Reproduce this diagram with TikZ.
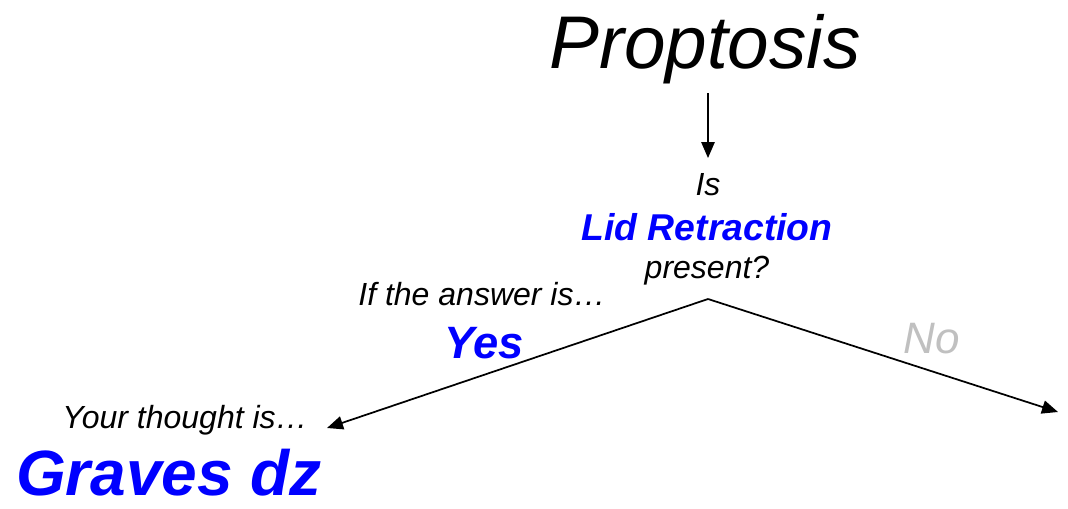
\documentclass[tikz,border=0pt]{standalone}
\usepackage{fontspec}
\setmainfont{Liberation Sans}
\usetikzlibrary{arrows.meta}
\definecolor{qBlue}{HTML}{0000FF}
\definecolor{qGray}{HTML}{C0C0C0}

\begin{document}
\begin{tikzpicture}[x=0.75pt, y=-0.75pt,
  lbl/.style={inner sep=0pt, anchor=base, font=\fontsize{24}{28}\selectfont\itshape},
  key/.style={inner sep=0pt, anchor=base, text=qBlue, font=\bfseries\itshape},
  arr/.style={-{Triangle[length=12pt, width=10pt]}, line width=1.3pt},
]
  \useasboundingbox (0,0) rectangle (1068,508);

  \node[lbl, font=\fontsize{56}{60}\selectfont\itshape] (prop) at (705,68) {Proptosis};
  \node[lbl] (is) at (708,195) {Is};
  \node[key, font=\fontsize{28}{32}\selectfont\bfseries\itshape] (lid) at (707,240) {Lid Retraction};
  \node[lbl] (present) at (707,278) {present?};

  \node[lbl] (ifans) at (482,305) {If the answer is\dots};
  \node[key, font=\fontsize{34}{38}\selectfont\bfseries\itshape] (yes) at (484,358) {Yes};
  \node[lbl, text=qGray, font=\fontsize{33}{37}\selectfont\itshape] (no) at (932,353) {No};

  \node[lbl] (thought) at (185,428) {Your thought is\dots};
  \node[key, font=\fontsize{48}{52}\selectfont\bfseries\itshape] (graves) at (169,495) {Graves dz};

  % branches
  \coordinate (apex) at (708,299);
  \coordinate (yesend) at (327,428);
  \coordinate (noend) at (1058,412);

  \draw[arr, shorten <=7pt, shorten >=11pt] (is.north |- prop.south) -- (is.north);
  \draw[arr] (apex) -- (yesend);
  \draw[arr] (apex) -- (noend);
\end{tikzpicture}
\end{document}
